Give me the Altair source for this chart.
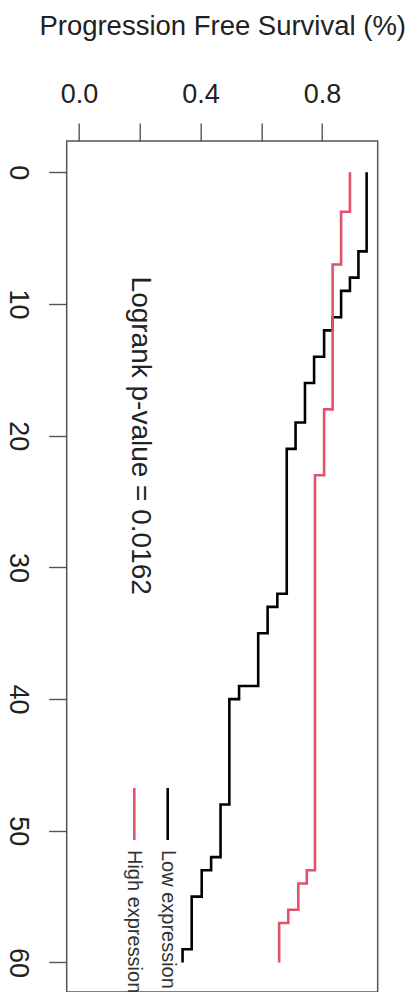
import altair as alt
import pandas as pd

# Kaplan-Meier step curves (time in months, survival proportion)
low_time = [0, 6, 8, 9, 11, 12, 14, 16, 19, 21, 32, 33, 35, 39, 40, 48, 52, 53, 55, 59, 60]
low_surv = [0.947, 0.920, 0.892, 0.863, 0.835, 0.807, 0.774, 0.744, 0.713, 0.684,
            0.653, 0.621, 0.590, 0.527, 0.495, 0.466, 0.435, 0.404, 0.371, 0.341, 0.341]
high_time = [0, 3, 7, 18, 23, 53, 54, 56, 57, 60]
high_surv = [0.892, 0.863, 0.835, 0.807, 0.777, 0.750, 0.722, 0.689, 0.659, 0.659]

groups = ["Low expression", "High expression"]
colors = ["#000000", "#DF536B"]
surv_ticks = [0.0, 0.2, 0.4, 0.6, 0.8]
time_ticks = [0, 10, 20, 30, 40, 50, 60]
title_text = "Progression Free Survival (%)"
pvalue_text = "Logrank p-value = 0.0162"
pvalue_time = 20
pvalue_surv = 0.2

df = pd.concat([
    pd.DataFrame({"time": low_time, "surv": low_surv, "group": groups[0]}),
    pd.DataFrame({"time": high_time, "surv": high_surv, "group": groups[1]}),
], ignore_index=True)

FONT = "Liberation Sans"
xscale = alt.Scale(domain=[-0.0405, 0.9834], nice=False, zero=False)
yscale = alt.Scale(domain=[-2.377, 62.24], nice=False, zero=False, reverse=True)

lines = alt.Chart(df).mark_line(interpolate="step-before", strokeWidth=2.6).encode(
    x=alt.X("surv:Q", scale=xscale,
            axis=alt.Axis(orient="top", values=surv_ticks,
                          labelExpr="(abs(datum.value-0.2)<0.001 || abs(datum.value-0.6)<0.001) ? '' : format(datum.value, '.1f')",
                          title=title_text, titlePadding=40, labelPadding=15,
                          labelFlush=False, labelOverlap=False)),
    y=alt.Y("time:Q", scale=yscale,
            axis=alt.Axis(orient="left", values=time_ticks, labelAngle=90,
                          labelAlign="center", labelBaseline="top", labelPadding=18,
                          title=None, labelFlush=False, labelOverlap=False)),
    color=alt.Color("group:N", scale=alt.Scale(domain=groups, range=colors), legend=None),
    order=alt.Order("time:Q"),
)

pv_df = pd.DataFrame({"label": [pvalue_text], "time": [pvalue_time], "surv": [pvalue_surv]})
ptext = alt.Chart(pv_df).mark_text(angle=90, align="center", baseline="middle",
                                   font=FONT, fontSize=28, color="#222").encode(
    x=alt.X("surv:Q", scale=xscale),
    y=alt.Y("time:Q", scale=yscale),
    text="label:N",
)

leg_df = pd.DataFrame({"group": groups})
leg_x = {groups[0]: 101, groups[1]: 67.6}
leg_layers = []
for g, c in zip(groups, colors):
    sub = alt.Chart(leg_df).transform_filter(alt.datum.group == g)
    leg_layers.append(sub.mark_rule(strokeWidth=2.6, color=c).encode(
        x=alt.value(leg_x[g]), y=alt.value(647), y2=alt.value(699)))
    leg_layers.append(sub.mark_text(angle=90, align="left", baseline="middle",
                                    font=FONT, fontSize=20, color="#333").encode(
        x=alt.value(leg_x[g]), y=alt.value(709), text="group:N"))

chart = alt.layer(lines, ptext, *leg_layers).properties(
    width=311, height=851,
    padding={"left": 58.7, "top": 133, "right": 28, "bottom": 0},
    autosize=alt.AutoSizeParams(type="none"),
).configure_view(
    stroke="#555", strokeWidth=1.5
).configure_axis(
    labelFont=FONT, labelFontSize=27, labelColor="#222",
    titleFont=FONT, titleFontSize=27.5, titleFontWeight="normal", titleColor="#222",
    tickColor="#555", tickSize=18, tickWidth=1.4, domain=False, grid=False,
)

chart.save("out.html", embed_options={"renderer": "svg", "actions": False})
